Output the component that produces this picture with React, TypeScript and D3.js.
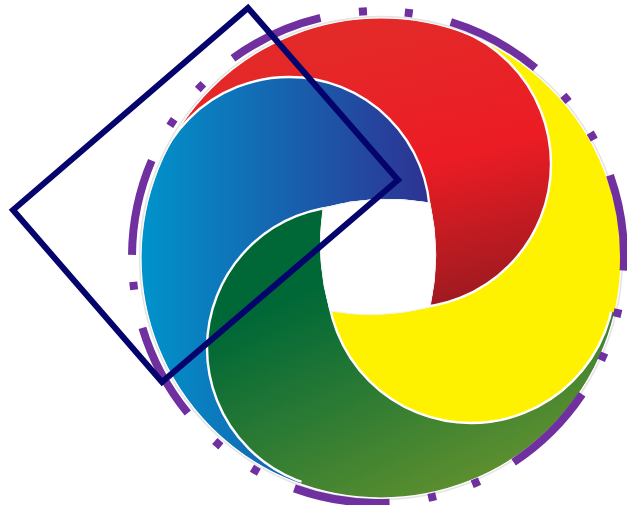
import React from "react";
import * as d3 from "d3";

const W = 627;
const H = 505;

// Outer envelope of the swirl
const outerCX = 381;
const outerCY = 258;
const outerR = 240;

// Four petals (disks), clockwise from the upper-left.
// Each petal lies on top of the next one: blue > red > yellow > green > blue.
const petalNames = ["blue", "red", "yellow", "green"];
const petalCX = [289, 407, 471, 349];
const petalCY = [218, 164, 279, 348];
const petalR = [141, 144, 144, 142];

// Central hole corners (clockwise from top-left)
const holeX = [323, 430, 430, 330];
const holeY = [208, 203, 307, 311];
const holeArcR = 240;

// Colours
const blueStops = ["#0093cb", "#2e3192"];
const redStops = ["#e32a29", "#ec1c24", "#9b1a20"];
const greenStops = ["#006837", "#006837", "#5a8e2f"];
const greenOffsets = [0, 0.15, 1];
const yellowStops = ["#fff200", "#fff200"];
const ringColor = "#7030a0";
const rectColor = "#04046c";

// Dash-dot ring
const ringCX = 378;
const ringCY = 257;
const ringR = 246;
const ringDash = [97, 39, 8, 38, 8, 39];
const ringStartDeg = 180.5;

// Tilted rectangle corners
const rectX = [248, 398, 162, 13];
const rectY = [8, 180, 382, 210];

const gradDefs = [
  { stops: blueStops, offsets: [0, 1], x1: 142, y1: 0, x2: 432, y2: 0 },
  { stops: redStops, offsets: [0, 0.5, 1], x1: 380, y1: 20, x2: 450, y2: 310 },
  { stops: yellowStops, offsets: [0, 1], x1: 0, y1: 0, x2: 1, y2: 0 },
  { stops: greenStops, offsets: greenOffsets, x1: 300, y1: 250, x2: 420, y2: 500 },
];

export default function App() {
  const n = petalNames.length;
  const ang = petalCX.map((cx, i) => Math.atan2(petalCY[i] - outerCY, cx - outerCX));

  const arcGen = d3.arc();
  const wedge = (i: number) => {
    const prev = (i - 1 + n) % n;
    let a0 = ang[prev] + Math.PI / 2;
    let a1 = ang[i] + Math.PI / 2;
    while (a1 < a0) a1 += 2 * Math.PI;
    return arcGen({ innerRadius: 0, outerRadius: outerR + 30, startAngle: a0, endAngle: a1 } as any) as string;
  };

  let holeD = `M${holeX[0]},${holeY[0]}`;
  for (let k = 1; k <= holeX.length; k++) {
    const j = k % holeX.length;
    holeD += ` A${holeArcR},${holeArcR} 0 0 1 ${holeX[j]},${holeY[j]}`;
  }
  holeD += " Z";

  const ring = d3.path();
  const a0 = (ringStartDeg * Math.PI) / 180;
  ring.arc(ringCX, ringCY, ringR, a0, a0 + Math.PI, false);
  ring.arc(ringCX, ringCY, ringR, a0 + Math.PI, a0 + 2 * Math.PI - 0.0001, false);

  const rectLine = d3.line().curve(d3.curveLinearClosed)(rectX.map((x, i) => [x, rectY[i]] as [number, number])) as string;

  return (
    <svg width={W} height={H} style={{ position: "absolute", left: 0, top: 0, display: "block" }}>
      <defs>
        <clipPath id="outerClip">
          <circle cx={outerCX} cy={outerCY} r={outerR} />
        </clipPath>
        {gradDefs.map((g, i) => (
          <linearGradient key={i} id={`grad${i}`} gradientUnits="userSpaceOnUse" x1={g.x1} y1={g.y1} x2={g.x2} y2={g.y2}>
            {g.stops.map((c, k) => (
              <stop key={k} offset={g.offsets[k]} stopColor={c} />
            ))}
          </linearGradient>
        ))}
        {petalNames.map((_, i) => {
          const prev = (i - 1 + n) % n;
          return (
            <mask key={i} id={`fill${i}`} maskUnits="userSpaceOnUse" x={0} y={0} width={W} height={H}>
              <path d={wedge(i)} transform={`translate(${outerCX},${outerCY})`} fill="white" />
              {petalCX.map((cx, j) =>
                j === i ? null : <circle key={j} cx={cx} cy={petalCY[j]} r={petalR[j]} fill="black" />
              )}
              <circle cx={petalCX[i]} cy={petalCY[i]} r={petalR[i]} fill="white" />
              <circle cx={petalCX[prev]} cy={petalCY[prev]} r={petalR[prev]} fill="black" />
              <path d={holeD} fill="black" />
            </mask>
          );
        })}
        {petalNames.map((_, i) => {
          const prev = (i - 1 + n) % n;
          return (
            <mask key={i} id={`edge${i}`} maskUnits="userSpaceOnUse" x={0} y={0} width={W} height={H}>
              <rect x={0} y={0} width={W} height={H} fill="white" />
              <path d={wedge(i)} transform={`translate(${outerCX},${outerCY})`} fill="black" />
              <circle cx={petalCX[prev]} cy={petalCY[prev]} r={petalR[prev]} fill="black" />
              <path d={holeD} fill="black" />
            </mask>
          );
        })}
      </defs>

      <g clipPath="url(#outerClip)">
        {petalNames.map((name, i) => (
          <rect key={name} x={0} y={0} width={W} height={H} fill={`url(#grad${i})`} mask={`url(#fill${i})`} />
        ))}
        {petalNames.map((name, i) => (
          <circle
            key={name}
            cx={petalCX[i]}
            cy={petalCY[i]}
            r={petalR[i]}
            fill="none"
            stroke="#ffffff"
            strokeWidth={2.4}
            mask={`url(#edge${i})`}
          />
        ))}
      </g>
      <path d={holeD} fill="#ffffff" stroke="#f2f2f2" strokeWidth={1} />
      <circle cx={outerCX} cy={outerCY} r={outerR + 1.2} fill="none" stroke="#e4e4e4" strokeWidth={2} />
      <circle cx={outerCX} cy={outerCY} r={outerR} fill="none" stroke="#ffffff" strokeWidth={1.2} />

      <path d={ring.toString()} fill="none" stroke={ringColor} strokeWidth={8} strokeDasharray={ringDash.join(" ")} />

      <path d={rectLine} fill="none" stroke={rectColor} strokeWidth={6} strokeLinejoin="miter" />
    </svg>
  );
}
